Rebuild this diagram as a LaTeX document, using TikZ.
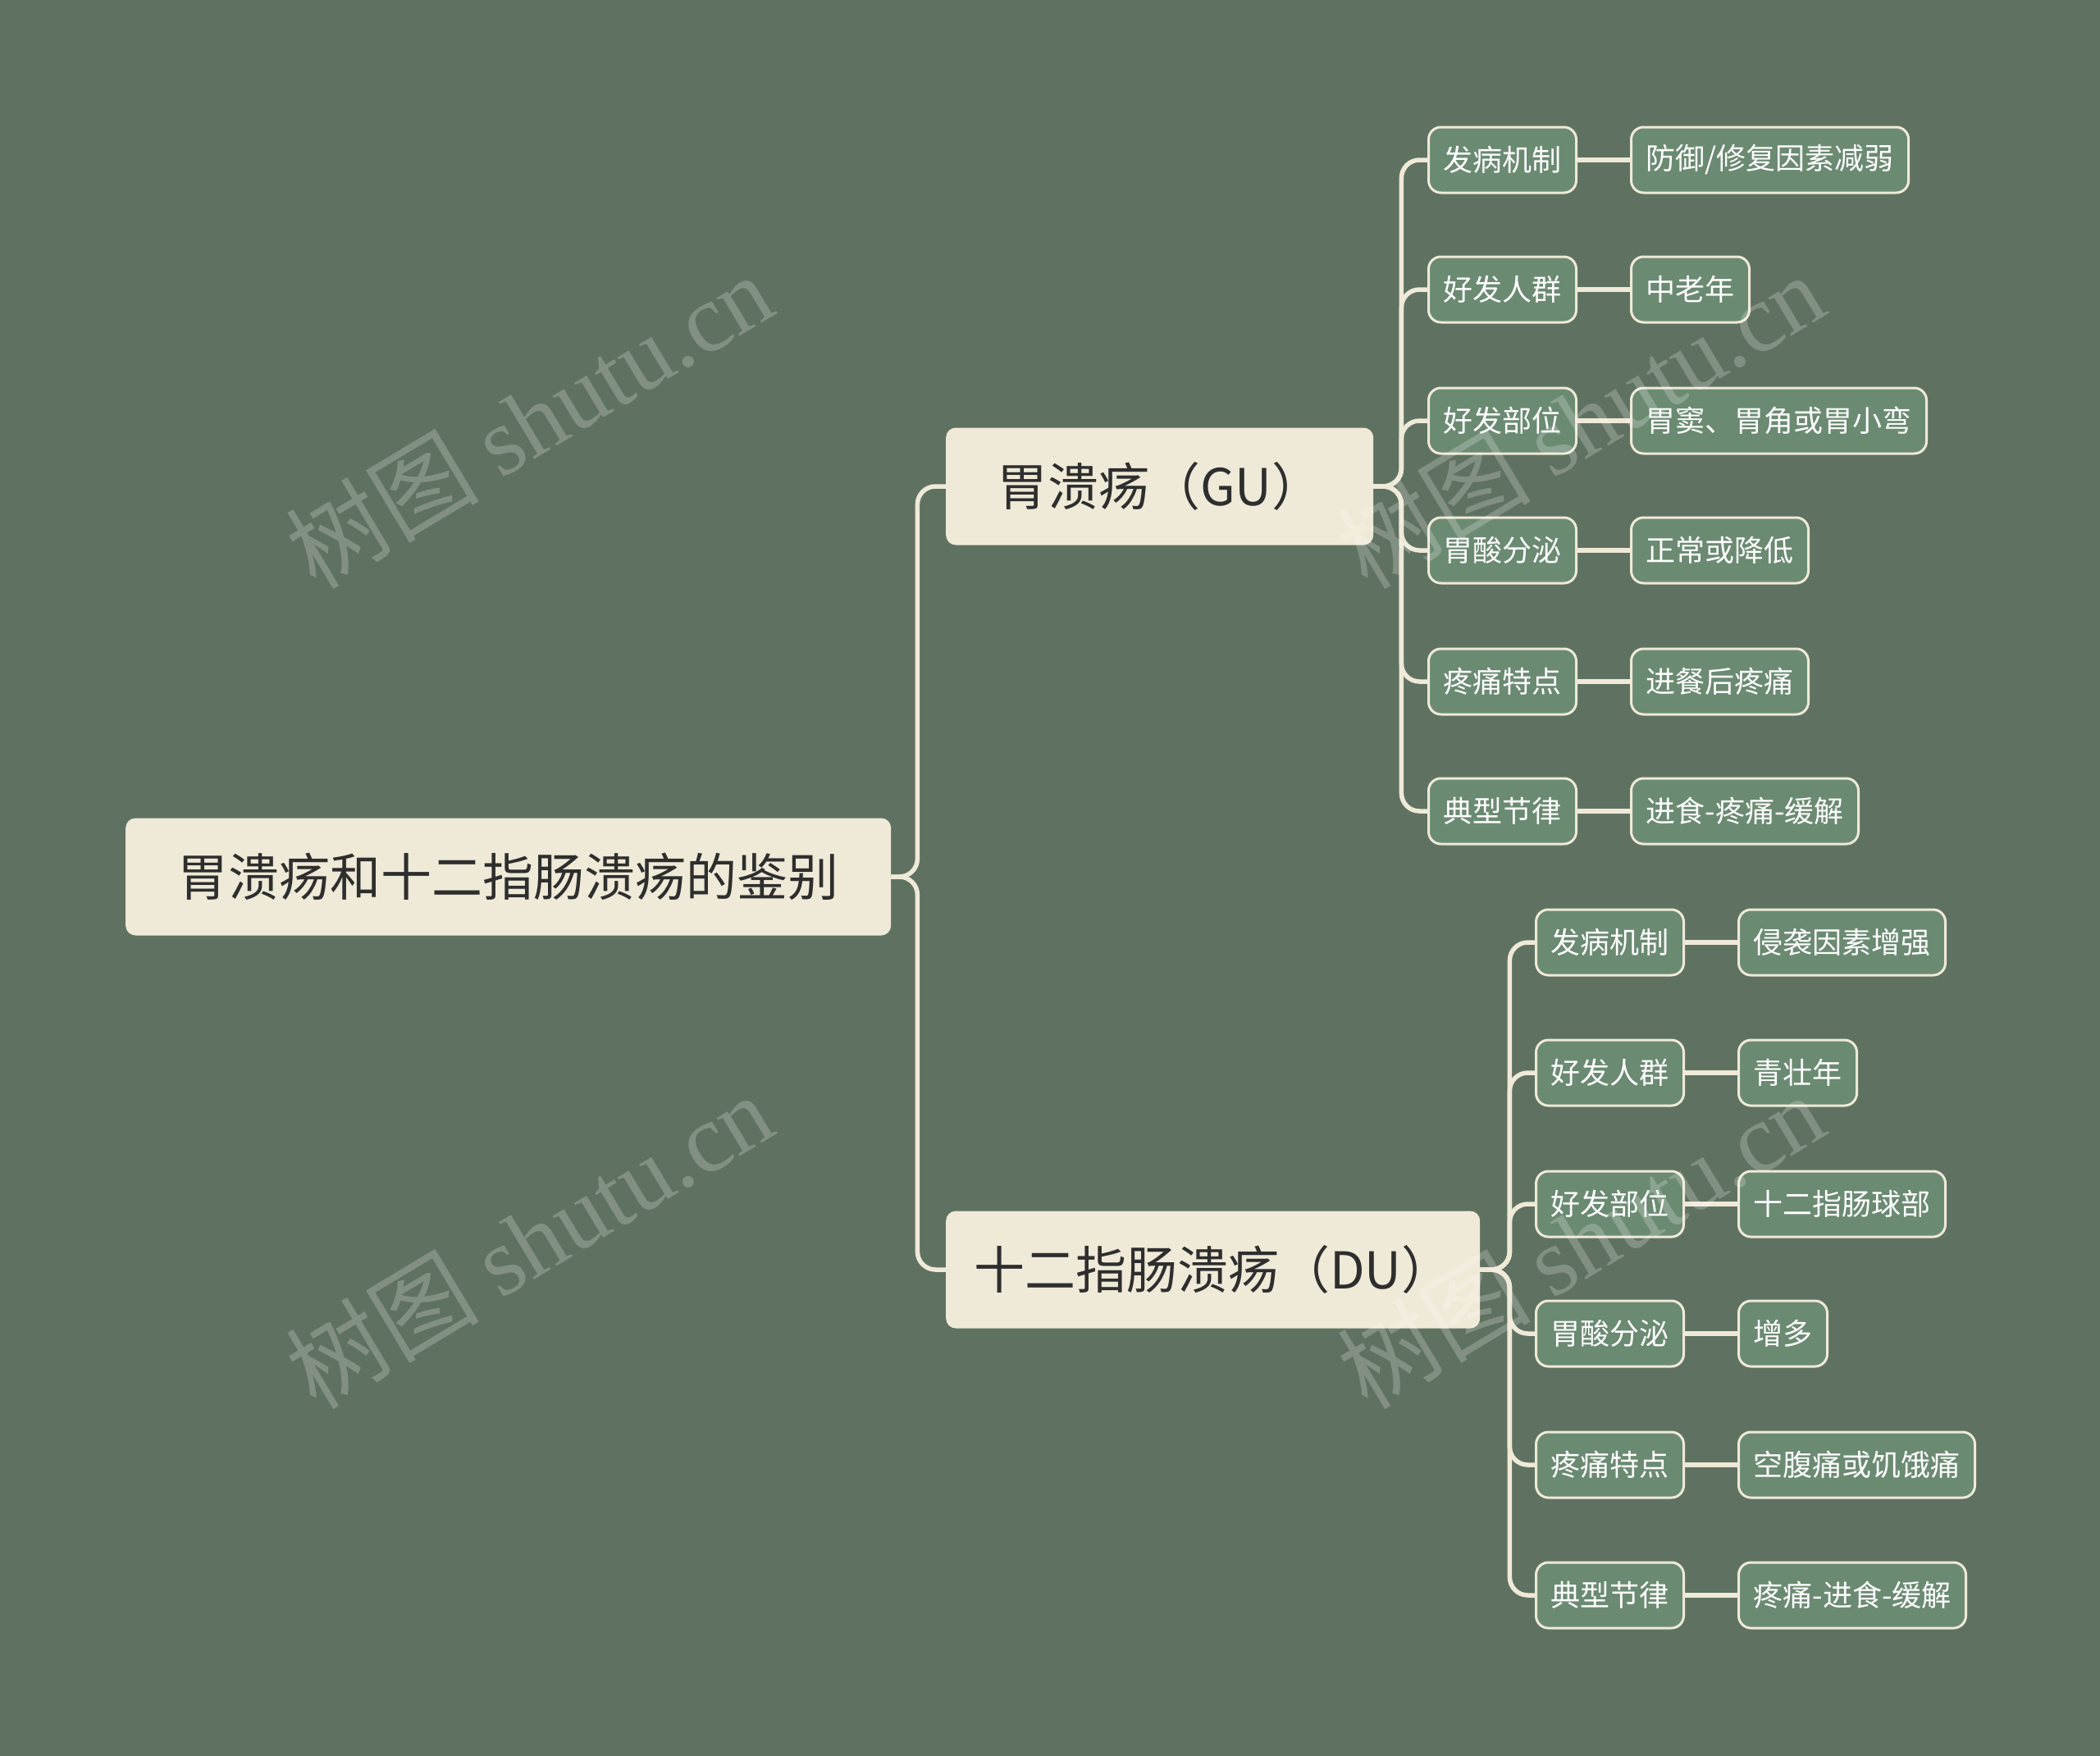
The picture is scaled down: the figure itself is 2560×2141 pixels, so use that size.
\documentclass[tikz,border=0pt]{standalone}
\usepackage{fontspec}
\setmainfont{Noto Sans CJK SC}
\newfontfamily\cjk{Noto Sans CJK SC}
\newfontfamily\wmlat{Liberation Serif}
\definecolor{bg}{HTML}{5F7261}
\definecolor{cream}{HTML}{EFE9D7}
\definecolor{leaf}{HTML}{6B8A72}
\definecolor{dark}{HTML}{2E2E2E}
\begin{document}
\begin{tikzpicture}[x=1pt,y=-1pt,
  mainbox/.style={draw=none,fill=cream,rounded corners=12pt,text=dark,minimum height=143pt,inner sep=0pt,font=\cjk\fontsize{62}{72}\selectfont,anchor=west},
  subbox/.style={draw=cream,line width=3pt,fill=leaf,rounded corners=15pt,text=white,minimum height=80pt,inner xsep=18pt,inner ysep=0pt,font=\cjk\fontsize{36}{42}\selectfont,anchor=west},
  conn/.style={draw=cream,line width=5.5pt,rounded corners=22pt},
  wm/.style={text=white,opacity=0.22,rotate=31,font=\fontsize{118}{125}\selectfont}]
\fill[bg] (0,0) rectangle (2560,2141);
\useasboundingbox (0,0) rectangle (2560,2141);

% main nodes
\node[mainbox,minimum width=933pt] (root) at (153,1069) {胃溃疡和十二指肠溃疡的鉴别};
\node[mainbox,minimum width=521pt] (gu) at (1153,593) {胃溃疡（GU）};
\node[mainbox,minimum width=651pt] (du) at (1153,1548) {十二指肠溃疡（DU）};

% GU children
\node[subbox] (g1) at (1740,195) {发病机制};
\node[subbox] (g2) at (1740,353) {好发人群};
\node[subbox] (g3) at (1740,513) {好发部位};
\node[subbox] (g4) at (1740,671) {胃酸分泌};
\node[subbox] (g5) at (1740,831) {疼痛特点};
\node[subbox] (g6) at (1740,989) {典型节律};
\node[subbox] (gl1) at (1987,195) {防御/修复因素减弱};
\node[subbox] (gl2) at (1987,353) {中老年};
\node[subbox] (gl3) at (1987,513) {胃窦、胃角或胃小弯};
\node[subbox] (gl4) at (1987,671) {正常或降低};
\node[subbox] (gl5) at (1987,831) {进餐后疼痛};
\node[subbox] (gl6) at (1987,989) {进食-疼痛-缓解};

% DU children
\node[subbox] (d1) at (1871,1149) {发病机制};
\node[subbox] (d2) at (1871,1308) {好发人群};
\node[subbox] (d3) at (1871,1468) {好发部位};
\node[subbox] (d4) at (1871,1626) {胃酸分泌};
\node[subbox] (d5) at (1871,1786) {疼痛特点};
\node[subbox] (d6) at (1871,1945) {典型节律};
\node[subbox] (dl1) at (2118,1149) {侵袭因素增强};
\node[subbox] (dl2) at (2118,1308) {青壮年};
\node[subbox] (dl3) at (2118,1468) {十二指肠球部};
\node[subbox] (dl4) at (2118,1626) {增多};
\node[subbox] (dl5) at (2118,1786) {空腹痛或饥饿痛};
\node[subbox] (dl6) at (2118,1945) {疼痛-进食-缓解};

% connectors
\draw[conn] (root.east) -- ++(32,0) |- (gu.west);
\draw[conn] (root.east) -- ++(32,0) |- (du.west);
\foreach \c in {g1,g2,g3,g4,g5,g6}
  \draw[conn] (gu.east) -- ++(34,0) |- (\c.west);
\foreach \c in {d1,d2,d3,d4,d5,d6}
  \draw[conn] (du.east) -- ++(36,0) |- (\c.west);
\foreach \a/\b in {g1/gl1,g2/gl2,g3/gl3,g4/gl4,g5/gl5,g6/gl6,d1/dl1,d2/dl2,d3/dl3,d4/dl4,d5/dl5,d6/dl6}
  \draw[draw=cream,line width=5.5pt] (\a.east) -- (\b.west);

% watermarks
\node[wm] (w1) at (645,512) {树图 {\wmlat shutu.cn}};
\node[wm] (w2) at (1927,512) {树图 {\wmlat shutu.cn}};
\node[wm] (w3) at (645,1512) {树图 {\wmlat shutu.cn}};
\node[wm] (w4) at (1927,1512) {树图 {\wmlat shutu.cn}};
\end{tikzpicture}
\end{document}
